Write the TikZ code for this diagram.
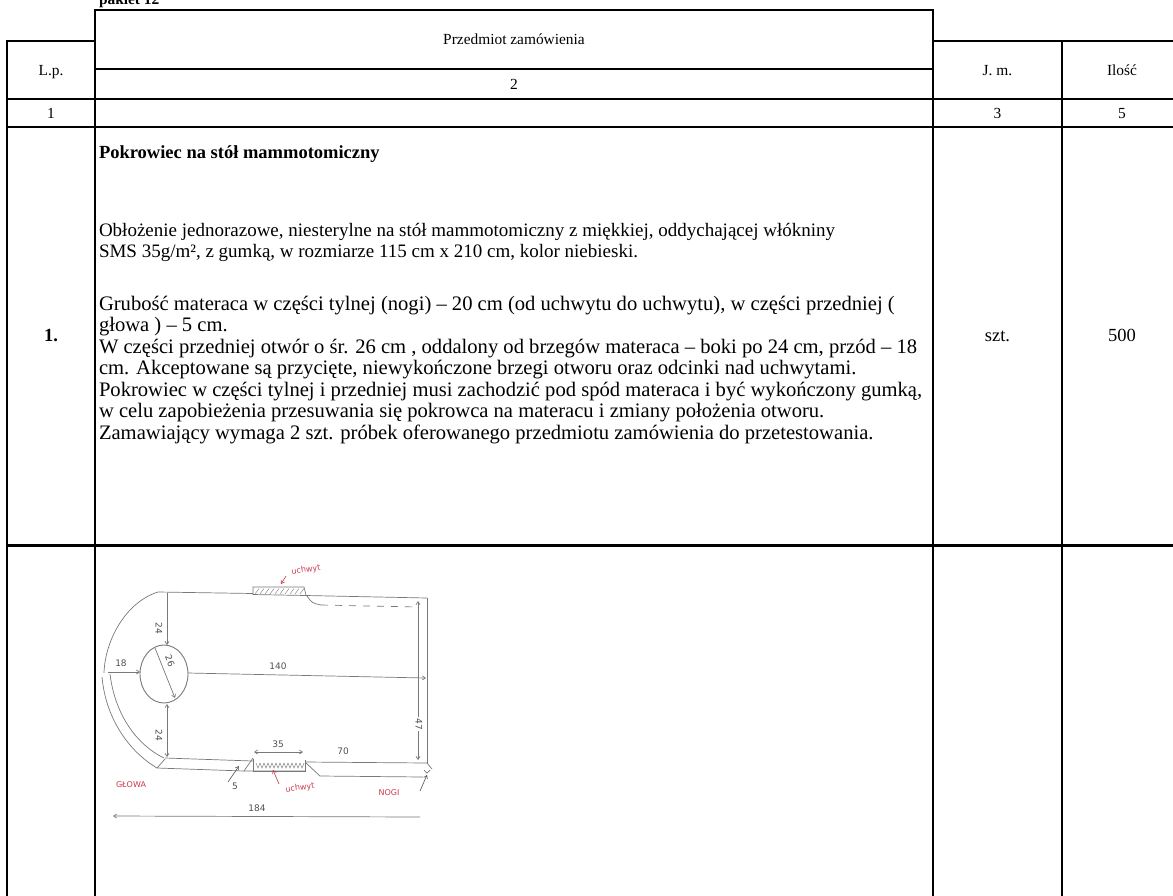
\documentclass[tikz,border=0pt]{standalone}
\usepackage{fontspec}
\setmainfont{Liberation Serif}
\newfontfamily\hand{DejaVu Sans}
\usetikzlibrary{arrows.meta}
\definecolor{pencil}{RGB}{120,120,120}
\definecolor{pendark}{RGB}{80,80,80}
\definecolor{penred}{RGB}{205,55,75}
\begin{document}
\begin{tikzpicture}[x=1pt,y=-1pt,
  every node/.style={inner sep=0pt, outer sep=0pt},
  tbl/.style={line width=2.2pt, line cap=rect},
  tblthick/.style={line width=3pt, line cap=rect},
  hdr/.style={font=\fontsize{15.4}{18}\selectfont, anchor=base},
  body/.style={font=\fontsize{19}{21.5}\selectfont, anchor=base west},
  bodyb/.style={font=\fontsize{20.6}{22}\selectfont, anchor=base west},
  cell/.style={font=\fontsize{18.5}{21.3}\selectfont, anchor=base},
  pencil/.style={draw=pencil, line width=0.7pt},
  dimlab/.style={text=pendark, font=\hand\fontsize{9}{10}\selectfont},
  redlab/.style={text=penred, font=\hand\fontsize{8}{9}\selectfont},
  barb/.style={-{Straight Barb[length=3pt,width=4pt]}},
  barbs/.style={{Straight Barb[length=3pt,width=4pt]}-{Straight Barb[length=3pt,width=4pt]}}
]
\useasboundingbox (0,0) rectangle (1173,895);

% ---------- table ----------
\draw[tbl] (95,10) -- (933,10);
\draw[tbl] (95,10) -- (95,895);
\draw[tbl] (933,10) -- (933,895);
\draw[tbl] (7,41) -- (95,41);
\draw[tbl] (933,41) -- (1173,41);
\draw[tbl] (7,41) -- (7,895);
\draw[tbl] (1062,41) -- (1062,895);
\draw[tbl] (95,69) -- (933,69);
\draw[tbl] (7,99) -- (1173,99);
\draw[tbl] (7,127) -- (1173,127);
\draw[tblthick] (7,545) -- (1173,545);

\node[font=\bfseries\fontsize{15.4}{18}\selectfont, anchor=base west] (pak) at (99,4) {pakiet 12};

\node[hdr] (hPrz) at (514,44) {Przedmiot zamówienia};
\node[hdr] (hLp) at (51,75) {L.p.};
\node[hdr] (h2) at (514,89) {2};
\node[hdr] (hJm) at (997.5,75) {J. m.};
\node[hdr] (hIl) at (1122,75) {Ilość};
\node[hdr] (n1) at (51,118) {1};
\node[hdr] (n3) at (997.5,118) {3};
\node[hdr] (n5) at (1122,118) {5};

\node[body, font=\bfseries\fontsize{18.5}{21.3}\selectfont] (title) at (99,158) {Pokrowiec na stół mammotomiczny};
\node[body] (t1) at (99,236) {Obłożenie jednorazowe, niesterylne na stół mammotomiczny z miękkiej, oddychającej włókniny};
\node[body] (t2) at (99,257.5) {SMS 35g/m², z gumką, w rozmiarze 115 cm x 210 cm, kolor niebieski.};
\node[bodyb] (t3) at (99,310) {Grubość materaca w części tylnej (nogi) – 20 cm (od uchwytu do uchwytu), w części przedniej (};
\node[bodyb] (t4) at (99,331.5) {głowa ) – 5 cm.};
\node[bodyb] (t5) at (99,353) {W części przedniej otwór o śr. 26 cm , oddalony od brzegów materaca – boki po 24 cm, przód – 18};
\node[bodyb] (t6) at (99,374.5) {cm. Akceptowane są przycięte, niewykończone brzegi otworu oraz odcinki nad uchwytami.};
\node[bodyb] (t7) at (99,396) {Pokrowiec w części tylnej i przedniej musi zachodzić pod spód materaca i być wykończony gumką,};
\node[bodyb] (t8) at (99,417.5) {w celu zapobieżenia przesuwania się pokrowca na materacu i zmiany położenia otworu.};
\node[bodyb] (t9) at (99,439) {Zamawiający wymaga 2 szt. próbek oferowanego przedmiotu zamówienia do przetestowania.};

\node[cell, font=\bfseries\fontsize{18.5}{21.3}\selectfont] (lp1) at (51,341) {1.};
\node[cell] (jm1) at (997.5,341) {szt.};
\node[cell] (il1) at (1122,341) {500};

% ---------- sketch ----------
% top edge with handle
\draw[pencil] (158,592) -- (253,593.5);
\draw[pencil] (253,595) -- (253,587) -- (304,587) -- (306,595);
\foreach \i in {0,...,9} \draw[pencil, line width=0.4pt] ({255+\i*5},594) -- ({259+\i*5},588.5);
\draw[pencil] (253,594.5) -- (306,595.5) -- (427,598);
\draw[pencil] (307,596) .. controls (312,603) .. (321,605);
\draw[pencil, dash pattern=on 7pt off 7pt] (321,605) -- (417,607);
% right side
\draw[pencil] (427,598) -- (427,763);
\draw[pencil, barbs] (418,601) -- (418,760);
\node[dimlab, rotate=-90, fill=white, inner sep=1.5pt] (l47) at (419,724) {47};
% head side
\draw[pencil] (158,592) .. controls (126,602) and (105,640) .. (104,673);
\draw[pencil] (102,677) .. controls (106,720) and (130,752) .. (157,768);
\draw[pencil] (110,674) .. controls (115,715) and (137,745) .. (164,758);
\draw[pencil] (157,768) -- (165,759);
% hole
\draw[pencil, line width=0.9pt] (164,674) ellipse [x radius=24pt, y radius=29pt];
\draw[pencil, barb] (167,593) -- (167,645);
\node[dimlab, rotate=-90] (l24a) at (159,628) {24};
\draw[pencil, barb] (108,672) -- (140,672);
\node[dimlab] (l18) at (121,663) {18};
\draw[pencil, barb] (155,648) -- (175,698);
\node[dimlab, rotate=-68] (l26) at (170,661) {26};
\draw[pencil, barb] (188,673) -- (426,678);
\node[dimlab] (l140) at (278,666) {140};
\draw[pencil, barbs] (167,704) -- (167,757);
\node[dimlab, rotate=-90] (l24b) at (159,735) {24};
% bottom edge with handle
\draw[pencil] (165,758) -- (253,761);
\draw[pencil] (253,759) -- (253,771) -- (305,771) -- (305,760);
\draw[pencil, line width=0.45pt] (256,763) \foreach \i in {0,...,11} { -- ({258+\i*4},768) -- ({260+\i*4},763) };
\draw[pencil] (305,762) -- (427,763);
\draw[pencil, barbs] (254,752) -- (303,752);
\node[dimlab] (l35) at (278,744) {35};
\node[dimlab] (l70) at (343,751) {70};
\draw[pencil] (157,768) -- (244,771) -- (305,771);
\draw[pencil] (244,771) -- (253,758);
\draw[pencil] (306,763) -- (320,776) -- (423,777);
\draw[pencil] (427,763) -- (432,769);
\draw[pencil] (424,770) -- (427,773) -- (430,770);
\draw[pendark, line width=0.6pt, barb] (420,791) -- (427,775);
\draw[pendark, line width=0.6pt, barb] (228,782) -- (239,766);
\node[dimlab] (l5) at (235,786) {5};
% red labels
\node[redlab] (gl) at (131,785) {GŁOWA};
\node[redlab, rotate=8] (uch2) at (300,788) {uchwyt};
\draw[penred, line width=0.6pt, barb] (279,784) -- (273,770);
\node[redlab] (nogi) at (389,793) {NOGI};
\node[redlab, rotate=8] (uch1) at (306,570) {uchwyt};
\draw[penred, line width=0.6pt, barb] (286,576) -- (281,584);
% 184
\node[dimlab] (l184) at (257,808) {184};
\draw[pencil, barb] (420,817) -- (113,816);
\end{tikzpicture}
\end{document}
